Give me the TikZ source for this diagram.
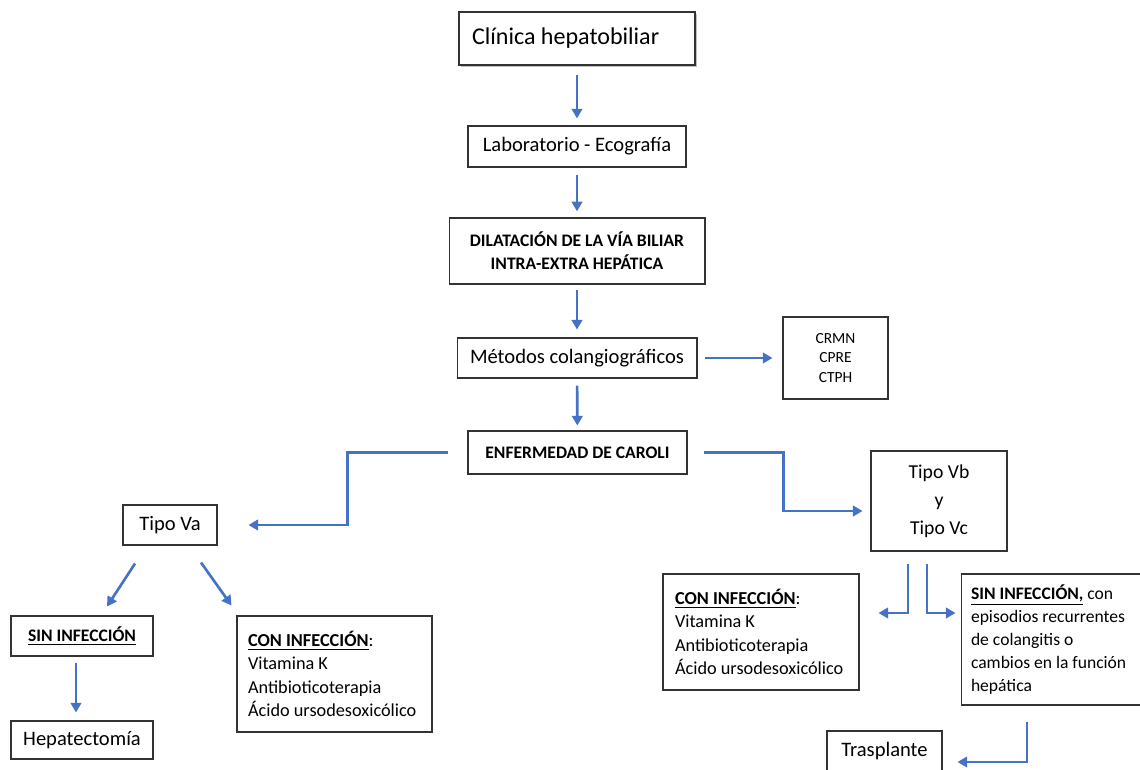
\documentclass[tikz,border=0pt]{standalone}
\usepackage{fontspec}
\setmainfont{Carlito}
\usepackage{tikz}
\usetikzlibrary{calc,arrows.meta,shadows}
\definecolor{azul}{HTML}{4472C4}
\newcommand\U[1]{\underline{\textbf{#1}}}

\begin{document}
\begin{tikzpicture}[x=0.02cm,y=-0.02cm,
    caja/.style={draw=black!80,line width=0.6pt,fill=white,inner sep=0pt,align=center,font=\fontsize{11.7}{14}\selectfont},
    lista/.style={caja,align=flush left,inner xsep=0.22cm,execute at begin node={\spaceskip=0pt\relax},font=\fontsize{10.4}{13.3}\selectfont},
    flecha/.style={draw=azul,line width=1.5pt,-{Triangle[length=5.5pt,width=6pt]}}]
  \useasboundingbox (0,0) rectangle (1140,770);
        \node[lista,text width=4.2cm,inner xsep=0.26cm,minimum height=1.06cm,font=\fontsize{13.7}{16}\selectfont,
              line width=0.9pt,drop shadow={shadow xshift=1.2pt,shadow yshift=-1.2pt,fill=black!50}] (clin) at (577,38.5) {Clínica hepatobiliar};
        \node[caja,minimum width=4.36cm,minimum height=0.82cm] (lab) at (577,146.5) {Laboratorio - Ecografía};
        \node[caja,minimum width=5.12cm,minimum height=1.32cm,font=\fontsize{10}{13}\selectfont\bfseries] (dil) at (577,251) {DILATACIÓN DE LA VÍA BILIAR\\INTRA-EXTRA HEPÁTICA};
        \node[caja,minimum width=4.8cm,minimum height=0.8cm] (met) at (577,358) {Métodos colangiográficos};
        \node[caja,minimum width=2.1cm,minimum height=1.64cm,font=\fontsize{8.8}{11}\selectfont] (crmn) at (835.5,358) {CRMN\\CPRE\\CTPH};
        \node[caja,minimum width=4.38cm,minimum height=0.86cm,font=\fontsize{10}{12}\selectfont\bfseries] (enf) at (577.5,452.5) {ENFERMEDAD DE CAROLI};
        \node[caja,minimum width=1.88cm,minimum height=0.8cm] (va) at (170,525) {Tipo Va};
        \node[caja,minimum width=2.72cm,minimum height=2cm,font=\fontsize{11.2}{15.9}\selectfont] (vbc) at (939,501) {Tipo Vb\\y\\Tipo Vc};
        \node[caja,minimum width=2.84cm,minimum height=0.8cm,font=\fontsize{10}{12}\selectfont] (sinL) at (82,636) {\U{SIN INFECCIÓN}};
        \node[caja,minimum width=2.84cm,minimum height=0.76cm] (hep) at (82,740) {Hepatectomía};
        \node[lista,text width=3.46cm,minimum height=2.32cm] (conL) at (334.5,674) {\U{CON INFECCIÓN}:\\Vitamina K\\Antibioticoterapia\\Ácido ursodesoxicólico};
        \node[lista,text width=3.44cm,inner xsep=0.24cm,minimum height=2.32cm] (conR) at (761,632) {\U{CON INFECCIÓN}:\\Vitamina K\\Antibioticoterapia\\Ácido ursodesoxicólico};
        \node[lista,text width=3.5cm,inner xsep=0.2cm,minimum height=2.62cm,font=\fontsize{10}{13}\selectfont] (sinR) at (1058.5,639.5) {\U{SIN INFECCIÓN,} con\\episodios recurrentes\\de colangitis o\\cambios en la función\\hepática};
        \node[caja,minimum width=2.3cm,minimum height=0.8cm] (tras) at (884.5,751) {Trasplante};
    \draw[flecha,shorten <=5pt,shorten >=4pt] (clin) -- (lab);
    \draw[flecha,shorten <=4.5pt,shorten >=3.5pt] (lab) -- (dil);
    \draw[flecha,shorten <=3.4pt,shorten >=4.5pt] (dil) -- (met);
    \draw[flecha,shorten <=4pt,shorten >=2.8pt] (met) -- (enf);
    \draw[flecha,shorten <=4.5pt,shorten >=5.7pt] (met.east) -- (met.east -| crmn.west);
    \draw[flecha,shorten <=11pt,shorten >=17.6pt] (enf.west) -- ++(-120,0) |- (va.east);
    \draw[flecha,shorten <=9.5pt,shorten >=4.5pt] (enf.east) -- ++(96,0) |- ($(vbc.west)+(0,10)$);
    \draw[flecha] ($(va.south)+(-35,18)$) -- ($(sinL.north)+(25,-9)$);
    \draw[flecha] ($(va.south)+(31,17)$) -- ($(conL.north west)+(-5,-10)$);
    \draw[flecha] ($(sinL.south)+(-6,6)$) -- ($(hep.north)+(-6,-8)$);
    \draw[flecha] ($(vbc.south)+(-31,12)$) |- ($(conR.east)+(19,-19)$);
    \draw[flecha] ($(vbc.south)+(-12,12)$) |- ($(sinR.west)+(-5,-26.5)$);
    \draw[flecha] ($(sinR.south)+(-31.5,16)$) |- ($(tras.east)+(15,11)$);
\end{tikzpicture}
\end{document}
